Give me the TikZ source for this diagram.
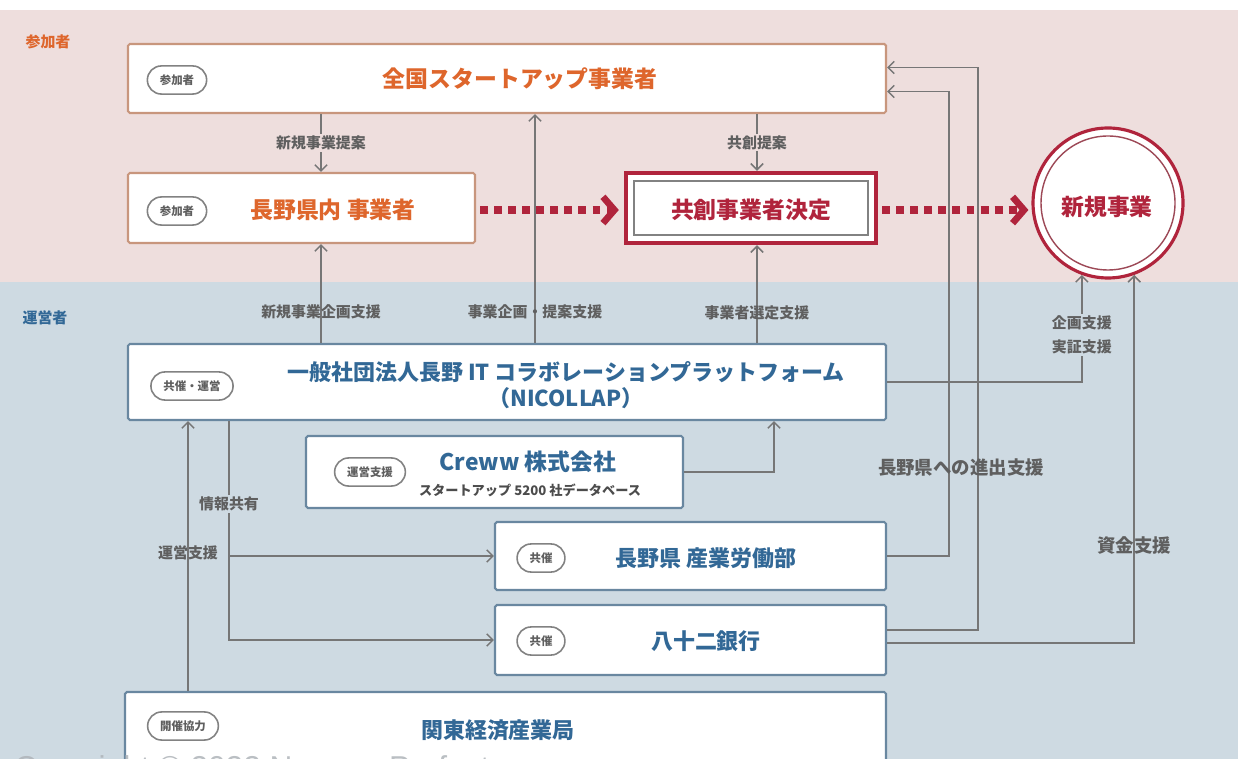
\documentclass[tikz,border=0pt]{standalone}
\usepackage{fontspec}
\setmainfont{Noto Sans CJK JP}
\newfontfamily\wmfont{Liberation Sans}
\usetikzlibrary{arrows.meta, calc, shapes.misc}

\definecolor{pinkbg}{RGB}{238,222,221}
\definecolor{bluebg}{RGB}{206,218,226}
\definecolor{orangetxt}{RGB}{222,102,44}
\definecolor{tanline}{RGB}{200,150,125}
\definecolor{bluetxt}{RGB}{50,104,150}
\definecolor{blueline}{RGB}{105,135,160}
\definecolor{darkred}{RGB}{176,36,60}
\definecolor{linegray}{RGB}{118,118,118}
\definecolor{pillgray}{RGB}{130,130,130}
\definecolor{labgray}{RGB}{95,95,95}
\definecolor{wmgray}{RGB}{175,180,185}

\tikzset{
  boxsize/.style 2 args={minimum width=#1*0.02cm, minimum height=#2*0.02cm, inner sep=0pt},
  topbox/.style={draw=tanline, line width=1.2pt, fill=white, rounded corners=1pt},
  opbox/.style={draw=blueline, line width=1.2pt, fill=white, rounded corners=1pt},
  pill/.style={rounded rectangle, draw=pillgray, line width=0.9pt, fill=white,
    minimum height=16pt, inner xsep=6.5pt, inner ysep=0pt,
    font=\bfseries\fontsize{6.5pt}{7pt}\selectfont, text=labgray},
  toptitle/.style={font=\bfseries\fontsize{13pt}{15pt}\selectfont, text=orangetxt},
  optitle/.style={font=\bfseries\fontsize{12.5pt}{14.7pt}\selectfont, text=bluetxt, align=center},
  sidelab/.style={font=\bfseries\fontsize{8.5pt}{10pt}\selectfont},
  conn/.style={draw=linegray, line width=0.85pt},
  tip/.style={-{Straight Barb[length=3.5pt, width=7pt]}},
  lab/.style={font=\bfseries\fontsize{8.5pt}{10pt}\selectfont, text=labgray, inner sep=1pt},
  biglab/.style={font=\bfseries\fontsize{10.5pt}{12pt}\selectfont, text=labgray, inner sep=1pt},
  dots/.style={draw=darkred, line width=5pt, dash pattern=on 4.5pt off 3.5pt,
    -{Straight Barb[length=6.5pt, width=15pt, line width=3.8pt]}},
}

\begin{document}
\begin{tikzpicture}[x={(0.02cm,0)}, y={(0,-0.02cm)}]
  \useasboundingbox (0,0) rectangle (1246,759);
  \clip (0,0) rectangle (1246,759);

  % background bands
  \fill[white] (0,0) rectangle (1246,759);
  \fill[pinkbg] (0,10) rectangle (1238,282);
  \fill[bluebg] (0,282) rectangle (1238,759);

  \node[sidelab, text=orangetxt] (sanka) at (48,42) {参加者};
  \node[sidelab, text=bluetxt] (unei) at (45,318) {運営者};

  % participants
  \node[topbox, boxsize={758}{69}] (zenkoku) at (507,78.5) {};
  \node[pill] (zenkoku-tag) at (177,80) {参加者};
  \node[toptitle] (zenkoku-title) at (520,79) {全国スタートアップ事業者};

  \node[topbox, boxsize={347}{70}] (kennai) at (301.5,208) {};
  \node[pill] (kennai-tag) at (177,211) {参加者};
  \node[toptitle] (kennai-title) at (333,210) {長野県内 事業者};

  \node[draw=darkred, line width=2.5pt, fill=white, boxsize={250}{70}] (kyoso) at (751,208) {};
  \node[draw=pillgray, line width=0.8pt, boxsize={234}{54}] (kyoso-in) at (751,208) {};
  \node[toptitle, text=darkred] (kyoso-title) at (751,210) {共創事業者決定};

  \node[circle, draw=darkred, line width=1.8pt, fill=white, minimum size=150*0.02cm] (shinki) at (1108,203) {};
  \node[circle, draw=darkred!60!gray, line width=0.8pt, minimum size=134*0.02cm] (shinki-in) at (1108,203) {};
  \node[toptitle, text=darkred] (shinki-title) at (1107,207) {新規事業};

  % operators
  \node[opbox, boxsize={758}{76}] (ippan) at (507,382) {};
  \node[pill] (ippan-tag) at (192,386) {共催・運営};
  \node[optitle] (ippan-title) at (566,385) {一般社団法人長野 IT コラボレーションプラットフォーム\\（NICOLLAP）};

  \node[opbox, boxsize={377}{72}] (creww) at (494.5,472) {};
  \node[pill] (creww-tag) at (370,472) {運営支援};
  \node[optitle, font=\bfseries\fontsize{13pt}{15pt}\selectfont] (creww-title) at (528,462) {Creww 株式会社};
  \node[font=\bfseries\fontsize{7.5pt}{9pt}\selectfont, text=labgray!80!black] (creww-sub) at (530,490) {スタートアップ 5200 社データベース};

  \node[opbox, boxsize={391}{68}] (sangyo) at (690.5,556) {};
  \node[pill] (sangyo-tag) at (541,558) {共催};
  \node[optitle] (sangyo-title) at (706,558) {長野県 産業労働部};

  \node[opbox, boxsize={391}{70}] (hachiju) at (690.5,640) {};
  \node[pill] (hachiju-tag) at (541,641) {共催};
  \node[optitle] (hachiju-title) at (706,641) {八十二銀行};

  \node[opbox, boxsize={761}{100}] (kanto) at (505.5,742) {};
  \node[pill] (kanto-tag) at (183,726) {開催協力};
  \node[optitle] (kanto-title) at (498,730) {関東経済産業局};

  % columns for the vertical connectors
  \coordinate (x-teian) at (321,0);
  \coordinate (x-kikaku) at (535,0);
  \coordinate (x-sentei) at (757,0);
  \coordinate (x-unei) at (188,0);
  \coordinate (x-joho) at (229,0);
  \coordinate (x-creww) at (774,0);

  % dotted flow
  \draw[dots] ($(kennai.east)+(4,2)$) -- ($(kyoso.west)+(-5,2)$);
  \draw[dots] ($(kyoso.east)+(4,2)$) -- ($(kyoso.east -| shinki.west)+(-3,2)$);

  % upper connectors
  \draw[conn, tip] (zenkoku.south -| x-teian) -- (kennai.north -| x-teian)
    node[midway, lab, fill=pinkbg] {新規事業提案};
  \draw[conn, tip] (zenkoku.south -| x-sentei) -- (kyoso.north -| x-sentei)
    node[midway, lab, fill=pinkbg] {共創提案};

  \draw[conn, tip] (ippan.north -| x-teian) -- (kennai.south -| x-teian)
    node[pos=0.31, lab] {新規事業企画支援};
  \draw[conn, tip] (ippan.north -| x-kikaku) -- (zenkoku.south -| x-kikaku)
    node[pos=0.134, lab] {事業企画・提案支援};
  \draw[conn, tip] (ippan.north -| x-sentei) -- (kyoso.south -| x-sentei)
    node[pos=0.31, lab] {事業者選定支援};

  % right side
  \draw[conn, tip] (ippan.east) -| (shinki.250)
    node[pos=0.72, lab, fill=bluebg, align=center, font=\bfseries\fontsize{8.5pt}{14pt}\selectfont] {企画支援\\実証支援};
  \draw[conn, tip] ($(hachiju.east)+(0,3)$) -| (shinki.290)
    node[pos=0.633, biglab] {資金支援};
  \draw[conn, tip] (sangyo.east) -| ($(zenkoku.east)+(62,13)$) -- ($(zenkoku.east)+(0,13)$);
  \draw[conn, tip] ($(hachiju.east)+(0,-10)$) -| ($(zenkoku.east)+(91,-11)$) -- ($(zenkoku.east)+(0,-11)$);
  \node[biglab] (shinshutsu) at (961,468) {長野県への進出支援};

  % left side
  \draw[conn, tip] (kanto.north -| x-unei) -- (ippan.south -| x-unei)
    node[pos=0.51, lab] {運営支援};
  \draw[conn, tip] (ippan.south -| x-joho) |- (hachiju.west)
    node[pos=0.19, lab, fill=bluebg] {情報共有};
  \draw[conn, tip] (sangyo.west -| x-joho) -- (sangyo.west);
  \draw[conn, tip] (creww.east) -| (ippan.south -| x-creww);

  % watermark
  \node[anchor=base west, font=\wmfont\fontsize{18pt}{20pt}\selectfont, text=wmgray, opacity=0.85, inner sep=0pt] (wmark) at (14,778) {Copyright © 2022 Nagano Prefecture};
\end{tikzpicture}
\end{document}
